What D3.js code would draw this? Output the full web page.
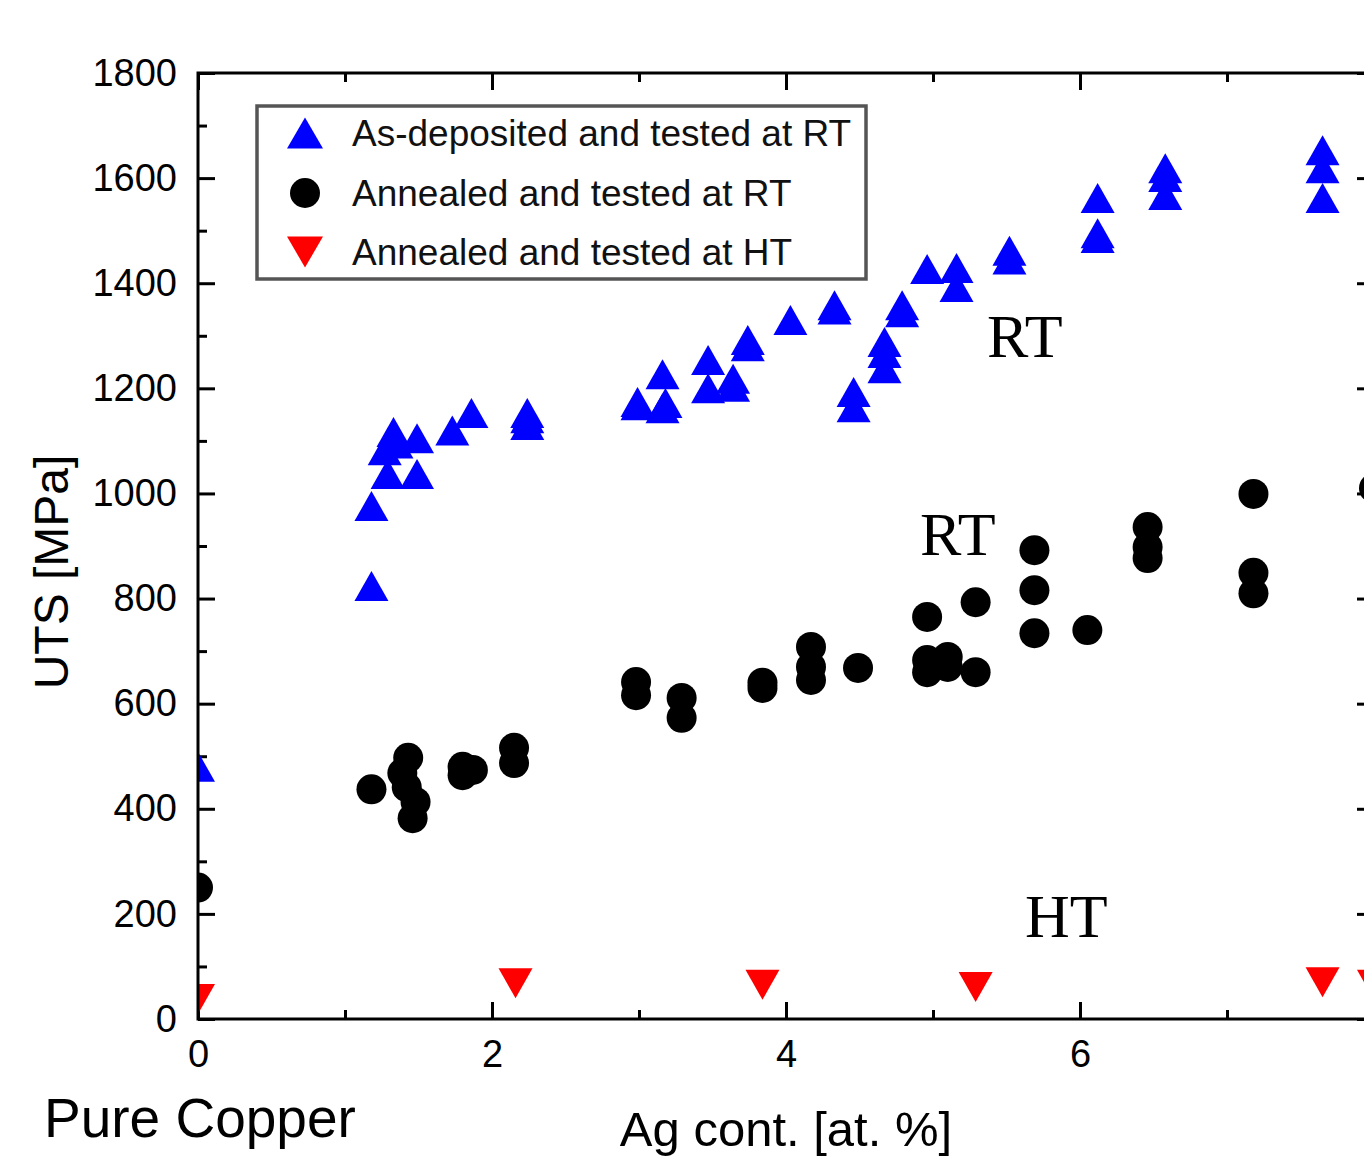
<!DOCTYPE html>
<html>
<head>
<meta charset="utf-8">
<script src="https://cdn.jsdelivr.net/npm/d3@7"></script>
<style>
  html, body { margin: 0; padding: 0; background: #fff; }
  svg { display: block; }
</style>
</head>
<body>
<div id="chart"></div>
<script>
// UTS vs Ag content, three test conditions
const asDepAg = [0, 1.18, 1.18, 1.29, 1.27, 1.33, 1.35, 1.49, 1.49, 1.73, 1.86, 2.24, 2.24, 2.24,
  2.99, 2.99, 3.16, 3.16, 3.18, 3.47, 3.47, 3.64, 3.64, 3.74, 3.74, 4.03, 4.33, 4.33, 4.46, 4.46,
  4.67, 4.67, 4.67, 4.79, 4.79, 4.96, 5.16, 5.16, 5.52, 5.52, 6.12, 6.12, 6.12, 6.58, 6.58, 6.58,
  7.65, 7.65, 7.65];
const asDepUTS = [480, 824, 976, 1037, 1082, 1117, 1095, 1037, 1105, 1120, 1153, 1153, 1143, 1130,
  1174, 1168, 1227, 1162, 1172, 1254, 1200, 1218, 1203, 1292, 1280, 1330, 1358, 1350, 1193, 1164,
  1288, 1267, 1238, 1358, 1345, 1427, 1429, 1393, 1462, 1445, 1562, 1495, 1486, 1619, 1602, 1568,
  1653, 1619, 1562];

const annRTAg = [0, 1.18, 1.43, 1.39, 1.42, 1.48, 1.46, 1.80, 1.80, 1.87, 2.15, 2.15, 2.98, 2.98,
  3.29, 3.29, 3.84, 3.84, 4.17, 4.17, 4.17, 4.49, 4.96, 4.96, 4.96, 5.10, 5.10, 5.29, 5.29,
  5.69, 5.69, 5.69, 6.05, 6.46, 6.46, 6.46, 7.18, 7.18, 7.18, 8.0];
const annRTUTS = [250, 437, 497, 468, 441, 413, 382, 464, 480, 474, 516, 487, 641, 616,
  611, 573, 640, 630, 708, 670, 645, 668, 765, 683, 660, 689, 670, 793, 660,
  892, 816, 734, 740, 936, 898, 877, 999, 849, 810, 1010];

const annHTAg = [0, 2.16, 3.84, 5.29, 7.65, 8.0];
const annHTUTS = [38, 68, 65, 61, 70, 65];

const legendLabels = ['As-deposited and tested at RT', 'Annealed and tested at RT', 'Annealed and tested at HT'];
const yTicks = d3.range(0, 1801, 200);
const xTicks = [0, 2, 4, 6];

const W = 1364, H = 1161;
const plotL = 198, plotR = 1374, plotT = 73, plotB = 1019;

const svg = d3.select('#chart').append('svg')
  .attr('width', W).attr('height', H);

const x = d3.scaleLinear().domain([0, 8]).range([plotL, plotR]);
const y = d3.scaleLinear().domain([0, 1800]).range([plotB, plotT]);

svg.append('clipPath').attr('id', 'plot-clip')
  .append('rect').attr('x', plotL).attr('y', plotT)
  .attr('width', plotR - plotL).attr('height', plotB - plotT);

// triangles: bbox-centred
function triUp(w, h) {
  return `M0,${-h / 2}L${w / 2},${h / 2}L${-w / 2},${h / 2}Z`;
}
function triDown(w, h) {
  return `M0,${h / 2}L${w / 2},${-h / 2}L${-w / 2},${-h / 2}Z`;
}

const font = 'Liberation Sans, Arial, sans-serif';

// axes with inward ticks
function styleAxis(g) {
  g.select('.domain').remove();
  g.selectAll('line').attr('stroke', '#000').attr('stroke-width', 3);
  g.selectAll('text').attr('font-family', font).attr('font-size', 38).attr('fill', '#000');
}

const minorY = d3.range(100, 1800, 200);
const minorX = [1, 3, 5, 7];

svg.append('g').attr('transform', `translate(${plotL},0)`)
  .call(d3.axisLeft(y).tickValues(yTicks).tickSize(-17).tickPadding(21).tickFormat(d3.format('d')))
  .call(styleAxis);
svg.append('g').attr('transform', `translate(${plotL},0)`)
  .call(d3.axisLeft(y).tickValues(minorY).tickSize(-9).tickFormat(''))
  .call(styleAxis);
svg.append('g').attr('transform', `translate(${plotR},0)`)
  .call(d3.axisRight(y).tickValues(yTicks).tickSize(-17).tickFormat(''))
  .call(styleAxis);
svg.append('g').attr('transform', `translate(${plotR},0)`)
  .call(d3.axisRight(y).tickValues(minorY).tickSize(-9).tickFormat(''))
  .call(styleAxis);

svg.append('g').attr('transform', `translate(0,${plotB})`)
  .call(d3.axisBottom(x).tickValues(xTicks).tickSize(-17).tickPadding(21).tickFormat(d3.format('d')))
  .call(styleAxis);
svg.append('g').attr('transform', `translate(0,${plotB})`)
  .call(d3.axisBottom(x).tickValues(minorX).tickSize(-9).tickFormat(''))
  .call(styleAxis);
svg.append('g').attr('transform', `translate(0,${plotT})`)
  .call(d3.axisTop(x).tickValues(xTicks).tickSize(-17).tickFormat(''))
  .call(styleAxis);
svg.append('g').attr('transform', `translate(0,${plotT})`)
  .call(d3.axisTop(x).tickValues(minorX).tickSize(-9).tickFormat(''))
  .call(styleAxis);

// data
const pts = svg.append('g').attr('clip-path', 'url(#plot-clip)');

pts.selectAll('path.up').data(d3.zip(asDepAg, asDepUTS)).join('path')
  .attr('class', 'up')
  .attr('d', triUp(34, 30))
  .attr('transform', d => `translate(${x(d[0])},${y(d[1])})`)
  .attr('fill', '#0000ff');

pts.selectAll('circle').data(d3.zip(annRTAg, annRTUTS)).join('circle')
  .attr('cx', d => x(d[0])).attr('cy', d => y(d[1])).attr('r', 15)
  .attr('fill', '#000');

pts.selectAll('path.down').data(d3.zip(annHTAg, annHTUTS)).join('path')
  .attr('class', 'down')
  .attr('d', triDown(34, 30))
  .attr('transform', d => `translate(${x(d[0])},${y(d[1])})`)
  .attr('fill', '#ff0000');

// frame
svg.append('rect')
  .attr('x', plotL).attr('y', plotT)
  .attr('width', plotR - plotL).attr('height', plotB - plotT)
  .attr('fill', 'none').attr('stroke', '#000').attr('stroke-width', 3);

// legend
const lg = svg.append('g');
lg.append('rect')
  .attr('x', 257).attr('y', 106).attr('width', 609).attr('height', 173)
  .attr('fill', '#fff').attr('stroke', '#555').attr('stroke-width', 3.5);
const rowsY = [133, 193, 252];
lg.append('path').attr('d', triUp(36, 31)).attr('transform', `translate(305,${rowsY[0]})`).attr('fill', '#0000ff');
lg.append('circle').attr('cx', 305).attr('cy', rowsY[1]).attr('r', 15).attr('fill', '#000');
lg.append('path').attr('d', triDown(36, 31)).attr('transform', `translate(305,${rowsY[2]})`).attr('fill', '#ff0000');
lg.selectAll('text').data(legendLabels).join('text')
  .attr('x', 352).attr('y', (d, i) => rowsY[i] + 13)
  .attr('font-family', font).attr('font-size', 37).attr('fill', '#111')
  .text(d => d);

// axis titles
svg.append('text')
  .attr('transform', 'translate(68,572) rotate(-90)')
  .attr('text-anchor', 'middle')
  .attr('font-family', font).attr('font-size', 48)
  .text('UTS [MPa]');

svg.append('text')
  .attr('x', 786).attr('y', 1146)
  .attr('text-anchor', 'middle')
  .attr('font-family', font).attr('font-size', 49)
  .text('Ag cont. [at. %]');

svg.append('text')
  .attr('x', 44).attr('y', 1137)
  .attr('font-family', font).attr('font-size', 55)
  .text('Pure Copper');

// in-plot annotations
const serif = 'Liberation Serif, Times New Roman, serif';
const notes = [
  { t: 'RT', x: 987, y: 357 },
  { t: 'RT', x: 920, y: 555 },
  { t: 'HT', x: 1025, y: 937 }
];
svg.selectAll('text.note').data(notes).join('text')
  .attr('class', 'note')
  .attr('x', d => d.x).attr('y', d => d.y)
  .attr('font-family', serif).attr('font-size', 62)
  .text(d => d.t);
</script>
</body>
</html>
